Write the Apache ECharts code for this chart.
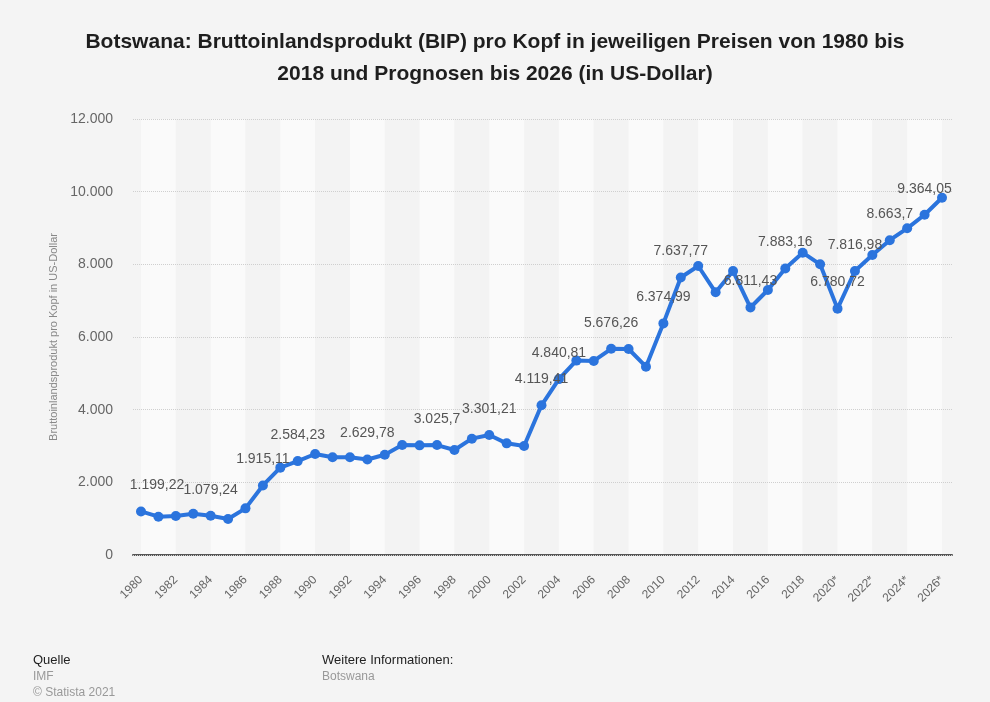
<!DOCTYPE html>
<html>
<head>
<meta charset="utf-8">
<script src="https://cdn.jsdelivr.net/npm/echarts@6/dist/echarts.min.js"></script>
<style>
  html, body { margin: 0; padding: 0; background: #f4f4f4; }
  #chart { width: 990px; height: 702px; }
</style>
</head>
<body>
<div id="chart"></div>
<script>
// GDP per capita, Botswana, current prices in USD (forecast from 2020 on)
const years = [
  '1980','1981','1982','1983','1984','1985','1986','1987','1988','1989',
  '1990','1991','1992','1993','1994','1995','1996','1997','1998','1999',
  '2000','2001','2002','2003','2004','2005','2006','2007','2008','2009',
  '2010','2011','2012','2013','2014','2015','2016','2017','2018','2019',
  '2020*','2021*','2022*','2023*','2024*','2025*','2026*'
];
const gdpPerCapita = [
  1199.22, 1054, 1073, 1137, 1079.24, 991, 1284, 1915.11, 2404, 2584.23,
  2780, 2688, 2688, 2629.78, 2760, 3027, 3018, 3025.7, 2890, 3202,
  3301.21, 3073, 3000, 4119.41, 4840.81, 5350, 5340, 5676.26, 5670, 5183,
  6374.99, 7637.77, 7954, 7230, 7816, 6811.43, 7294, 7883.16, 8320, 8000,
  6780.72, 7816.98, 8257, 8663.7, 8991, 9364.05, 9834
];
// years whose value is printed next to the point
const labeledYears = ['1980','1984','1987','1989','1993','1997','2000','2003','2004',
  '2007','2010','2011','2015','2017','2020*','2021*','2023*','2025*'];
const yTicks = { min: 0, max: 12000, step: 2000 };

// German number format: 1234.5 -> "1.234,5"
function fmtDE(v) {
  const s = String(v);
  const parts = s.split('.');
  const intPart = parts[0].replace(/\B(?=(\d{3})+(?!\d))/g, '.');
  return parts.length > 1 ? intPart + ',' + parts[1] : intPart;
}

const FONT = 'Liberation Sans, Arial, Helvetica, sans-serif';

const seriesData = gdpPerCapita.map((v, i) => {
  const item = { value: v };
  if (labeledYears.indexOf(years[i]) >= 0) {
    item.label = { show: true };
    if (i === 0) item.label.offset = [16, 0];
  }
  return item;
});

const chart = echarts.init(document.getElementById('chart'), null, { renderer: 'canvas' });
chart.setOption({
  backgroundColor: '#f4f4f4',
  animation: false,
  title: {
    text: 'Botswana: Bruttoinlandsprodukt (BIP) pro Kopf in jeweiligen Preisen von 1980 bis\n2018 und Prognosen bis 2026 (in US-Dollar)',
    left: 'center',
    top: 21,
    textStyle: { fontFamily: FONT, fontSize: 21, fontWeight: 'bold', color: '#1e1e1e', lineHeight: 32, align: 'center' }
  },
  grid: [
    { left: 133, right: 38, top: 119, bottom: 147 },
    { left: 141, right: 48, top: 119, bottom: 147 }
  ],
  xAxis: [
    {
      gridIndex: 0, type: 'category', data: years, boundaryGap: false,
      axisLine: { show: true, lineStyle: { color: '#555', width: 2 } },
      axisTick: { show: false }, axisLabel: { show: false }, splitLine: { show: false }
    },
    {
      gridIndex: 1, type: 'category', data: years, boundaryGap: false, z: 0,
      axisLine: { show: false }, axisTick: { show: false },
      axisLabel: { interval: 1, rotate: 45, margin: 23, color: '#666', fontFamily: FONT, fontSize: 12 },
      splitLine: { show: false },
      splitArea: { show: true, interval: 1, areaStyle: { color: ['#fafafa', '#f3f3f3'] } }
    }
  ],
  yAxis: [
    {
      gridIndex: 0, type: 'value', min: yTicks.min, max: yTicks.max, interval: yTicks.step, z: 3,
      name: 'Bruttoinlandsprodukt pro Kopf in US-Dollar',
      nameLocation: 'middle', nameGap: 74,
      nameTextStyle: { color: '#888', fontFamily: FONT, fontSize: 11 },
      axisLine: { show: false }, axisTick: { show: false },
      axisLabel: { margin: 20, color: '#666', fontFamily: FONT, fontSize: 14, formatter: v => fmtDE(v) },
      splitLine: { show: true, lineStyle: { color: '#cfcfcf', type: 'dotted', width: 1 } }
    },
    {
      gridIndex: 1, type: 'value', min: yTicks.min, max: yTicks.max, interval: yTicks.step,
      axisLine: { show: false }, axisTick: { show: false }, axisLabel: { show: false },
      splitLine: { show: false }
    }
  ],
  series: [{
    type: 'line',
    xAxisIndex: 1, yAxisIndex: 1,
    data: seriesData,
    z: 5,
    symbol: 'circle', symbolSize: 10,
    lineStyle: { color: '#2b74dd', width: 4 },
    itemStyle: { color: '#2b74dd' },
    label: {
      show: false, position: 'top', distance: 14,
      color: '#555', fontFamily: FONT, fontSize: 14,
      formatter: p => fmtDE(p.value)
    }
  }],
  graphic: [
    { type: 'text', left: 33, top: 654, style: { text: 'Quelle', fill: '#222', font: '13px ' + FONT } },
    { type: 'text', left: 33, top: 671, style: { text: 'IMF', fill: '#999', font: '12px ' + FONT } },
    { type: 'text', left: 33, top: 687, style: { text: '© Statista 2021', fill: '#999', font: '12px ' + FONT } },
    { type: 'text', left: 322, top: 654, style: { text: 'Weitere Informationen:', fill: '#222', font: '13px ' + FONT } },
    { type: 'text', left: 322, top: 671, style: { text: 'Botswana', fill: '#999', font: '12px ' + FONT } }
  ]
});
</script>
</body>
</html>
